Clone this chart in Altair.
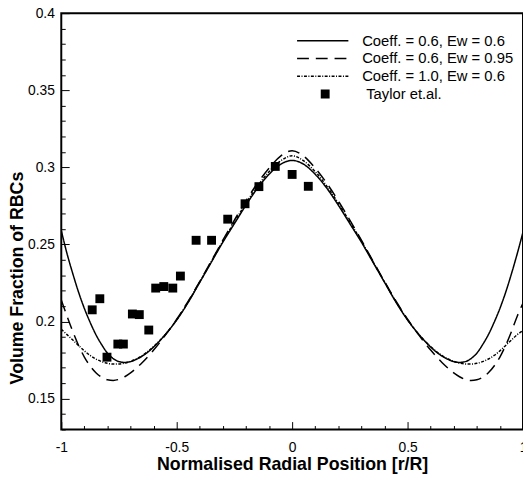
import altair as alt
import pandas as pd

# ---- data ----
X = [-1.0, -0.975, -0.95, -0.925, -0.9, -0.875, -0.85, -0.825, -0.8, -0.775,
     -0.75, -0.725, -0.7, -0.675, -0.65, -0.6, -0.55, -0.5, -0.45, -0.4,
     -0.35, -0.3, -0.25, -0.2, -0.15, -0.1, -0.05, 0.0,
     0.05, 0.1, 0.15, 0.2, 0.25, 0.3, 0.35, 0.4, 0.45, 0.5,
     0.55, 0.6, 0.65, 0.675, 0.7, 0.725, 0.75, 0.775, 0.8, 0.825,
     0.85, 0.875, 0.9, 0.925, 0.95, 0.975, 1.0]

SOLID = [0.259, 0.244, 0.231, 0.219, 0.2085, 0.1995, 0.1915, 0.185, 0.1795, 0.176,
         0.174, 0.1735, 0.174, 0.1755, 0.1775, 0.1835, 0.1915, 0.201, 0.2125, 0.2255,
         0.2385, 0.2515, 0.2635, 0.2755, 0.2865, 0.2955, 0.302, 0.3045,
         0.302, 0.2955, 0.2865, 0.2755, 0.2635, 0.2515, 0.2385, 0.2255, 0.2125, 0.201,
         0.1915, 0.1835, 0.1775, 0.1755, 0.174, 0.1735, 0.174, 0.176, 0.1795, 0.185,
         0.1915, 0.1995, 0.2085, 0.219, 0.231, 0.244, 0.258]

DASHED = [0.214, 0.2035, 0.1935, 0.1845, 0.177, 0.1712, 0.1668, 0.1638, 0.1622, 0.1618,
          0.1625, 0.1642, 0.1667, 0.1698, 0.1733, 0.1815, 0.191, 0.2015, 0.2133, 0.226,
          0.2393, 0.2528, 0.2658, 0.2783, 0.2897, 0.2995, 0.3073, 0.3108,
          0.3073, 0.2995, 0.2897, 0.2783, 0.2658, 0.2528, 0.2393, 0.226, 0.2133, 0.2015,
          0.191, 0.1815, 0.1733, 0.1698, 0.1667, 0.1642, 0.1625, 0.1618, 0.1622, 0.1638,
          0.1668, 0.1712, 0.177, 0.1845, 0.1935, 0.2035, 0.212]

DOTTED = [0.195, 0.1915, 0.188, 0.1845, 0.181, 0.178, 0.1757, 0.174, 0.1729, 0.1724,
          0.1725, 0.1731, 0.1742, 0.1758, 0.1779, 0.1838, 0.1915, 0.2012, 0.2128, 0.2257,
          0.2389, 0.2521, 0.2646, 0.2768, 0.2878, 0.2972, 0.3042, 0.3075,
          0.3042, 0.2972, 0.2878, 0.2768, 0.2646, 0.2521, 0.2389, 0.2257, 0.2128, 0.2012,
          0.1915, 0.1838, 0.1779, 0.1758, 0.1742, 0.1731, 0.1725, 0.1724, 0.1729, 0.174,
          0.1757, 0.178, 0.181, 0.1845, 0.188, 0.1915, 0.194]

SERIES = ["Coeff. = 0.6, Ew = 0.6", "Coeff. = 0.6, Ew = 0.95", "Coeff. = 1.0, Ew = 0.6"]

TAYLOR_LABEL = "Taylor et.al."
TAYLOR_X = [-0.866, -0.833, -0.802, -0.755, -0.731, -0.692, -0.662, -0.621, -0.591, -0.556,
            -0.517, -0.484, -0.416, -0.349, -0.279, -0.204, -0.144, -0.073, 0.0, 0.070]
TAYLOR_Y = [0.2076, 0.2148, 0.1769, 0.1854, 0.1854, 0.2049, 0.2045, 0.1945, 0.2217, 0.2227,
            0.2217, 0.2295, 0.2527, 0.2527, 0.2664, 0.2764, 0.2875, 0.3006, 0.2954, 0.2877]

X_MAJOR = [-1, -0.5, 0, 0.5, 1]
X_TICKS = [-1, -0.9, -0.8, -0.7, -0.6, -0.5, -0.4, -0.3, -0.2, -0.1, 0,
           0.1, 0.2, 0.3, 0.4, 0.5, 0.6, 0.7, 0.8, 0.9, 1]
Y_MAJOR = [0.15, 0.2, 0.25, 0.3, 0.35, 0.4]
Y_TICKS = [0.13, 0.14, 0.15, 0.16, 0.17, 0.18, 0.19, 0.2, 0.21, 0.22, 0.23, 0.24, 0.25,
           0.26, 0.27, 0.28, 0.29, 0.3, 0.31, 0.32, 0.33, 0.34, 0.35, 0.36, 0.37, 0.38,
           0.39, 0.4]

X_TITLE = "Normalised Radial Position [r/R]"
Y_TITLE = "Volume Fraction of RBCs"

# ---- layout ----
W, H = 468, 422
FONT = "Liberation Sans"

rows = []
for name, ys in zip(SERIES, [SOLID, DASHED, DOTTED]):
    for i, (xv, yv) in enumerate(zip(X, ys)):
        rows.append({"series": name, "x": xv, "y": yv, "order": i})
lines_df = pd.DataFrame(rows)
pts_df = pd.DataFrame({"x": TAYLOR_X, "y": TAYLOR_Y, "src": TAYLOR_LABEL})

xscale = alt.Scale(domain=[-1, 1], nice=False, zero=False)
yscale = alt.Scale(domain=[0.13, 0.4], nice=False, zero=False)

x_axis = alt.Axis(orient="bottom", values=X_MAJOR, ticks=False, domain=False, grid=False,
                  labelExpr="'' + datum.value", labelFont=FONT, labelFontSize=14,
                  labelColor="black", labelPadding=11, labelFlush=False,
                  title=X_TITLE, titleFont=FONT, titleFontSize=18, titleFontWeight="bold",
                  titleColor="black", titlePadding=2)
y_axis = alt.Axis(orient="left", values=Y_MAJOR, ticks=False, domain=False, grid=False,
                  labelExpr="'' + datum.value", labelFont=FONT, labelFontSize=14,
                  labelColor="black", labelPadding=7, labelFlush=False,
                  title=Y_TITLE, titleFont=FONT, titleFontSize=18, titleFontWeight="bold",
                  titleColor="black", titlePadding=1, titleY=268)

lines = alt.Chart(lines_df).mark_line(color="black", clip=True, interpolate="monotone").encode(
    x=alt.X("x:Q", scale=xscale, axis=x_axis),
    y=alt.Y("y:Q", scale=yscale, axis=y_axis),
    strokeDash=alt.StrokeDash(
        "series:N",
        scale=alt.Scale(domain=SERIES, range=[[1, 0], [12, 7], [3, 1.5, 1, 1.5]]),
        legend=alt.Legend(orient="none", legendX=238, legendY=19, title=None,
                          symbolType="stroke", symbolSize=2704, symbolStrokeWidth=1.5,
                          symbolStrokeColor="black", clipHeight=18, rowPadding=0,
                          labelFont=FONT, labelFontSize=15, labelColor="black",
                          labelOffset=13, labelLimit=300, padding=0),
    ),
    strokeWidth=alt.StrokeWidth("series:N",
                                scale=alt.Scale(domain=SERIES, range=[1.5, 1.5, 1.0]),
                                legend=None),
    order="order:Q",
)

pts = alt.Chart(pts_df).mark_point(shape="square", filled=True, size=81, color="black",
                                   opacity=1).encode(
    x=alt.X("x:Q", scale=xscale, axis=x_axis),
    y=alt.Y("y:Q", scale=yscale, axis=y_axis),
    shape=alt.Shape("src:N", scale=alt.Scale(domain=[TAYLOR_LABEL], range=["square"]),
                    legend=alt.Legend(orient="none", legendX=260, legendY=73, title=None,
                                      symbolSize=81, symbolFillColor="black",
                                      symbolStrokeColor="black", symbolStrokeWidth=0,
                                      clipHeight=18, rowPadding=0,
                                      labelFont=FONT, labelFontSize=15, labelColor="black",
                                      labelOffset=34, labelLimit=300, padding=0)),
)

main = alt.layer(lines, pts)

x_tick_axis = alt.Axis(orient="top", offset=-H, values=X_TICKS, labels=False, domain=False,
                       grid=False, title=None, tickColor="black", tickWidth=1,
                       tickSize={"condition": {"test": "abs(datum.value*2 - round(datum.value*2)) < 1e-6",
                                               "value": 8}, "value": 4})
y_tick_axis = alt.Axis(orient="right", offset=-W, values=Y_TICKS, labels=False, domain=False,
                       grid=False, title=None, tickColor="black", tickWidth=1,
                       tickSize={"condition": {"test": "abs(datum.value*20 - round(datum.value*20)) < 1e-6",
                                               "value": 8}, "value": 4})

ticks = alt.Chart(pts_df).mark_point(opacity=0).encode(
    x=alt.X("x:Q", scale=xscale, axis=x_tick_axis),
    y=alt.Y("y:Q", scale=yscale, axis=y_tick_axis),
)

chart = alt.layer(main, ticks).resolve_axis(x="independent", y="independent").properties(
    width=W, height=H,
    padding={"left": 54, "top": 2, "right": 0, "bottom": 50},
    autosize=alt.AutoSizeParams(type="none"),
    background="white",
).configure_view(stroke="black", strokeWidth=2)

chart.save("out.html", embed_options={"renderer": "svg", "actions": False})
